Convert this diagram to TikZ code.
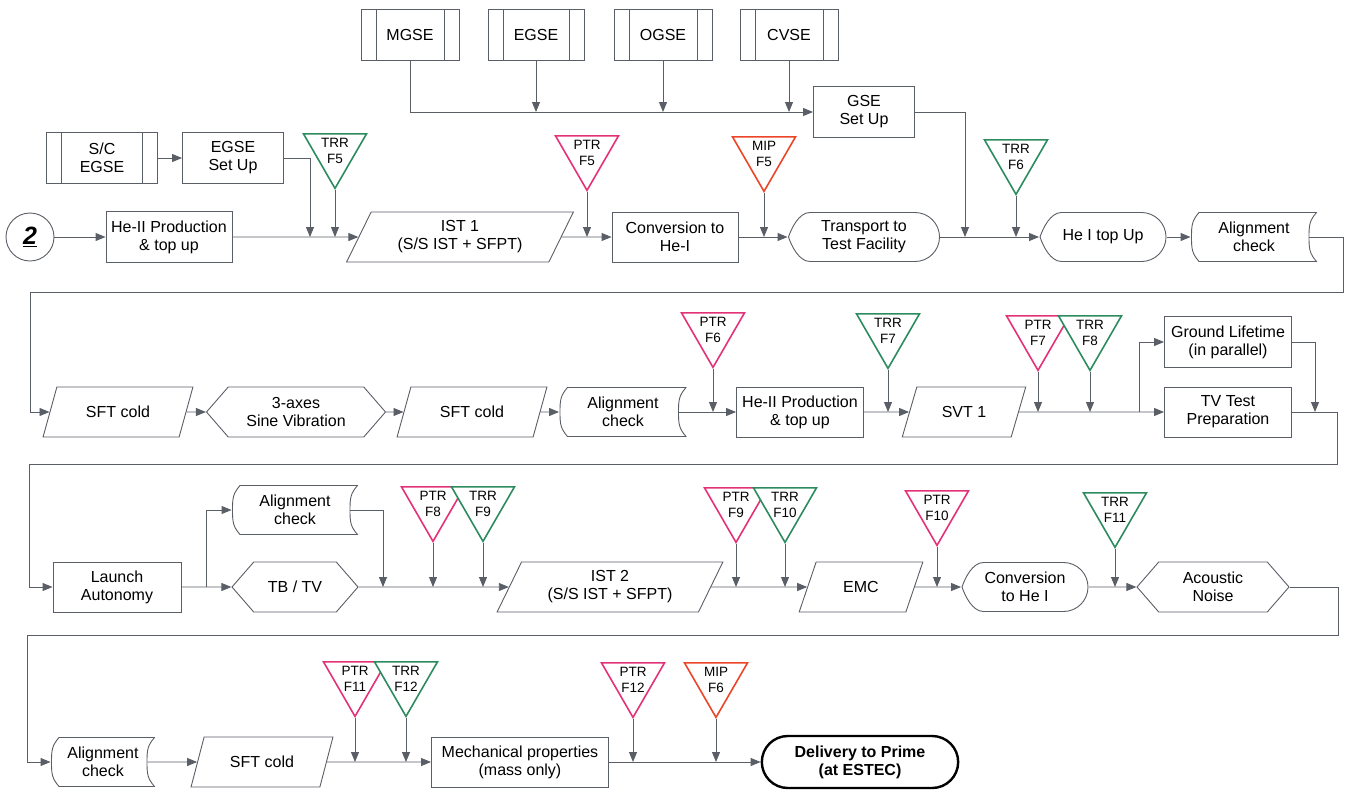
\documentclass[tikz,border=0pt]{standalone}
\usepackage{fontspec}
\setmainfont{Liberation Sans}
\usetikzlibrary{arrows.meta,shapes.geometric,shapes.symbols,shapes.misc}

\definecolor{linec}{RGB}{90,94,102}
\definecolor{trrc}{RGB}{45,140,95}
\definecolor{ptrc}{RGB}{228,50,120}
\definecolor{mipc}{RGB}{236,70,40}

\newcommand\pbb{path picture bounding box}

\tikzstyle{boxline}=[draw=linec, line width=0.9pt]
\tikzstyle{box}=[draw=linec, line width=0.9pt, minimum height=50pt, align=center, inner sep=2pt, font=\fontsize{16}{18}\selectfont]
\tikzstyle{proc}=[box, rectangle]
\tikzstyle{pred}=[proc, minimum height=51pt, path picture={
  \draw[boxline] ([xshift=15pt]\pbb.north west) -- ([xshift=15pt]\pbb.south west)
    ([xshift=-15pt]\pbb.north east) -- ([xshift=-15pt]\pbb.south east);}]
\tikzstyle{para}=[box, trapezium, trapezium left angle=64, trapezium right angle=116, trapezium stretches=true]
\tikzstyle{hexa}=[box, signal, signal to=east and west, signal pointer angle=98]
\tikzstyle{disp}=[box, draw=none, fill=white, path picture={
  \draw[boxline] ([xshift=22pt,yshift=-0.5pt]\pbb.north west) -- ([xshift=-25pt,yshift=-0.5pt]\pbb.north east)
    arc[start angle=90, end angle=-90, radius=24.5pt]
    -- ([xshift=22pt,yshift=0.5pt]\pbb.south west)
    .. controls +(-11pt,0pt) and +(3pt,-9pt) .. ([xshift=0.5pt]\pbb.west)
    .. controls +(3pt,9pt) and +(-11pt,0pt) .. ([xshift=22pt,yshift=-0.5pt]\pbb.north west) -- cycle;}]
\tikzstyle{store}=[box, draw=none, fill=white, path picture={
  \draw[boxline] ([xshift=8pt,yshift=-0.5pt]\pbb.north west) -- ([xshift=-0.5pt,yshift=-0.5pt]\pbb.north east)
    .. controls +(-7pt,-8pt) and +(0pt,12pt) .. ([xshift=-8pt]\pbb.east)
    .. controls +(0pt,-12pt) and +(-7pt,8pt) .. ([xshift=-0.5pt,yshift=0.5pt]\pbb.south east)
    -- ([xshift=8pt,yshift=0.5pt]\pbb.south west)
    .. controls +(-7pt,8pt) and +(0pt,-12pt) .. ([xshift=0.5pt]\pbb.west)
    .. controls +(0pt,12pt) and +(-7pt,-8pt) .. ([xshift=8pt,yshift=-0.5pt]\pbb.north west) -- cycle;}]
\tikzstyle{term}=[rounded rectangle, draw=black, line width=2.4pt, minimum height=52pt, align=center, font=\fontsize{16}{18}\selectfont\bfseries]
\tikzstyle{start}=[circle, draw=linec, line width=0.9pt, minimum size=48pt, inner sep=0pt, font=\fontsize{25}{25}\selectfont\bfseries\itshape]
\tikzstyle{gate}=[regular polygon, regular polygon sides=3, shape border rotate=180, minimum size=72.8pt, inner sep=-9pt, line width=1.6pt, fill=white, align=center, font=\fontsize{13.5}{16}\selectfont]
\tikzstyle{edge}=[draw=linec, line width=0.9pt, -{Triangle[length=10pt,width=8pt]}]

\begin{document}
\begin{tikzpicture}[x=1pt, y=-1pt]
  \useasboundingbox (0,0) rectangle (1347,790);

  % ground support equipment
  \node[pred, minimum width=98pt] (mgse) at (410,35) {MGSE};
  \node[pred, minimum width=96pt] (egse) at (536,35) {EGSE};
  \node[pred, minimum width=98pt] (ogse) at (663,35) {OGSE};
  \node[pred, minimum width=98pt] (cvse) at (789,35) {CVSE};
  \node[proc, minimum width=101pt, minimum height=51pt] (gse) at (864,112) {GSE\\Set Up};
  \node[pred, minimum width=111pt] (scegse) at (102,158) {S/C\\EGSE};
  \node[proc, minimum width=101pt, minimum height=51pt] (egsesetup) at (233,158) {EGSE\\Set Up};

  % first row
  \node[start] (two) at (30,237) {\underline{2}};
  \node[proc, minimum width=126pt, minimum height=51pt] (heprod1) at (169,237) {He-II Production\\\& top up};
  \node[para, minimum width=227pt] (ist1) at (460,237) {IST 1\\(S/S IST + SFPT)};
  \node[proc, minimum width=126pt] (conv1) at (675,237) {Conversion to\\He-I};
  \node[disp, minimum width=152pt] (transport) at (864,237) {Transport to\\Test Facility};
  \node[disp, minimum width=127pt] (hetop) at (1103,237) {He I top Up};
  \node[store, minimum width=126pt] (align1) at (1254,237) {Alignment\\check};

  % second row
  \node[para, minimum width=151pt] (sft1) at (118,412) {SFT cold};
  \node[hexa, minimum width=179pt] (sine) at (296,412) {3-axes\\Sine Vibration};
  \node[para, minimum width=151pt] (sft2) at (472,412) {SFT cold};
  \node[store, minimum width=127pt] (align2) at (623,412) {Alignment\\check};
  \node[proc, minimum width=127pt] (heprod2) at (800,412) {He-II Production\\\& top up};
  \node[para, minimum width=124pt] (svt) at (964,412) {SVT 1};
  \node[proc, minimum width=127pt, minimum height=51pt] (ground) at (1228,342) {Ground Lifetime\\(in parallel)};
  \node[proc, minimum width=127pt] (tvprep) at (1228,412) {TV Test\\Preparation};

  % third row
  \node[proc, minimum width=128pt] (launch) at (117,587) {Launch\\Autonomy};
  \node[store, minimum width=126pt] (align3) at (295,510) {Alignment\\check};
  \node[hexa, minimum width=126pt] (tbtv) at (295,587) {TB / TV};
  \node[para, minimum width=226pt] (ist2) at (610,587) {IST 2\\(S/S IST + SFPT)};
  \node[para, minimum width=124pt] (emc) at (861,587) {EMC};
  \node[disp, minimum width=127pt] (conv2) at (1025,587) {Conversion\\to He I};
  \node[hexa, minimum width=152pt] (acoustic) at (1213,587) {Acoustic\\Noise};

  % last row
  \node[store, minimum width=104pt] (align4) at (103,762) {Alignment\\check};
  \node[para, minimum width=143pt] (sft3) at (262,762) {SFT cold};
  \node[proc, minimum width=177pt] (mech) at (520,762) {Mechanical properties\\(mass only)};
  \node[term, minimum width=203pt] (delivery) at (860,762) {Delivery to Prime\\(at ESTEC)};

  % reviews
  \foreach \pos/\name/\col/\txt in {{(335,152)/trr5/trrc/TRR\\F5}, {(587,154)/ptr5/ptrc/PTR\\F5},
    {(764,155)/mip5/mipc/MIP\\F5}, {(1016,158)/trr6/trrc/TRR\\F6}, {(713,331)/ptr6/ptrc/PTR\\F6},
    {(888,332)/trr7/trrc/TRR\\F7}, {(1038,334)/ptr7/ptrc/PTR\\F7}, {(1090,334)/trr8/trrc/TRR\\F8},
    {(433,505)/ptr8/ptrc/PTR\\F8}, {(483,505)/trr9/trrc/TRR\\F9}, {(736,506)/ptr9/ptrc/PTR\\F9},
    {(785,506)/trr10/trrc/TRR\\F10}, {(937,509)/ptr10/ptrc/PTR\\F10}, {(1115,511)/trr11/trrc/TRR\\F11},
    {(355,680)/ptr11/ptrc/PTR\\F11}, {(406,680)/trr12/trrc/TRR\\F12}, {(633,681)/ptr12/ptrc/PTR\\F12},
    {(716,681)/mip6/mipc/MIP\\F6}}
    \node[gate, draw=\col] (\name) at \pos {\raisebox{3pt}{\begin{tabular}{@{}c@{}}\txt\end{tabular}}};

  \coordinate (j1) at (310,237);
  \coordinate (j2) at (965,237);
  \coordinate (w1) at (1343,292);
  \coordinate (w2) at (30,292);
  \coordinate (b1) at (1139,412);
  \coordinate (g1) at (1315,412);
  \coordinate (w3) at (1337,464);
  \coordinate (w4) at (29,464);
  \coordinate (b2) at (206,587);
  \coordinate (j3) at (383,587);
  \coordinate (w5) at (1338,635);
  \coordinate (w6) at (27,635);

  \foreach \source/\dest in {two/heprod1, heprod1/ist1, ist1/conv1, conv1/transport, transport/hetop,
    hetop/align1, scegse/egsesetup, sft1/sine, sine/sft2, sft2/align2, heprod2/svt, svt/tvprep,
    launch/tbtv, tbtv/ist2, ist2/emc, emc/conv2, conv2/acoustic, sft3/mech, mech/delivery}
    \path[edge] (\source) -- (\dest);

  \foreach \name/\row in {trr5/ist1, ptr5/conv1, mip5/transport, trr6/hetop, ptr6/heprod2, trr7/svt,
    ptr7/tvprep, trr8/tvprep, ptr8/ist2, trr9/ist2, ptr9/emc, trr10/emc, ptr10/conv2, trr11/acoustic,
    ptr11/mech, trr12/mech, ptr12/delivery, mip6/delivery}
    \path[edge] (\name.south) -- (\name.south |- \row.west);

  \path[edge] (mgse.south) |- (gse.west);
  \foreach \name in {egse, ogse, cvse}
    \path[edge] (\name.south) -- (\name.south |- gse.west);
  \path[edge] (gse.east) -| (j2);
  \path[edge] (egsesetup.east) -| (j1);

  \path[edge] ([xshift=-8pt]align2.east) -- (heprod2);
  \path[edge] ([xshift=-8pt]align4.east) -- (sft3);
  \path[edge] (b1) |- (ground.west);
  \path[edge] (ground.east) -| (g1);
  \path[edge] (b2) |- (align3.west);
  \path[edge] ([xshift=-8pt]align3.east) -| (j3);

  % row changes
  \path[edge] ([xshift=-8pt]align1.east) -| (w1) -- (w2) |- (sft1);
  \path[edge] (tvprep.east) -| (w3) -- (w4) |- (launch);
  \path[edge] (acoustic.east) -| (w5) -- (w6) |- (align4);
\end{tikzpicture}
\end{document}
